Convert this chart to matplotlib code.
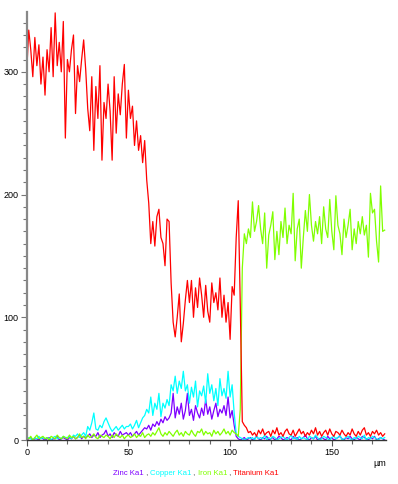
import matplotlib
matplotlib.use("Agg")
import matplotlib.pyplot as plt
import numpy as np

plt.rcParams['font.family'] = ['Liberation Sans', 'DejaVu Sans']

# line scan, one sample per micron
distance_um = np.arange(0, 177)

titanium = [
    300, 334, 318, 296, 328, 305, 322, 290, 312, 281,
    318, 300, 336, 296, 348, 305, 324, 300, 341, 246,
    310, 300, 318, 330, 266, 305, 292, 310, 326, 302,
    270, 252, 296, 236, 288, 262, 305, 228, 275, 262,
    290, 268, 228, 296, 250, 282, 265, 290, 306, 246,
    285, 262, 272, 240, 260, 236, 248, 226, 244, 212,
    193, 160, 178, 158, 182, 188, 165, 160, 142, 180,
    178, 128, 96, 84, 100, 119, 80, 95, 114, 130,
    112, 130, 100, 124, 108, 132, 118, 100, 126, 105,
    96, 128, 112, 120, 106, 132, 100, 118, 96, 112,
    82, 125, 118, 165, 195, 110, 15, 12, 10, 6,
    7, 4, 6, 3, 8, 5, 9, 4, 6, 7,
    3, 8, 5, 10, 4, 6, 3, 7, 9, 5,
    4, 8, 3, 6, 9, 5, 7, 3, 6, 4,
    8, 5, 10, 4, 7, 3, 6, 8, 4, 9,
    5, 3, 7, 6, 4, 8, 5, 3, 6, 4,
    9, 5, 3, 7, 4, 8, 10, 4, 6, 3,
    7, 5, 8, 4, 6, 3, 5,
]

iron = [
    2, 1, 3, 0, 2, 4, 1, 2, 3, 1,
    2, 0, 3, 2, 1, 4, 2, 1, 3, 2,
    1, 4, 2, 3, 1, 2, 5, 2, 3, 1,
    4, 2, 3, 5, 2, 1, 4, 3, 2, 4,
    3, 1, 4, 2, 5, 3, 2, 4, 1, 3,
    4, 2, 3, 5, 2, 4, 3, 6, 2, 4,
    5, 3, 6, 4, 7, 10, 5, 3, 6, 4,
    7, 5, 3, 6, 8, 4, 6, 3, 7, 5,
    4, 8, 5, 3, 7, 6, 9, 4, 7, 5,
    6, 3, 8, 5, 7, 4, 6, 9, 5, 7,
    4, 8, 6, 5, 3,
    25, 140, 168, 160, 172, 165, 194, 170, 178, 191,
    172, 160, 185, 140, 167, 175, 186, 147, 170, 151,
    178, 165, 189, 160, 175, 168, 201, 146, 172, 180,
    140, 165, 187, 170, 200, 175, 162, 178, 168, 182,
    160, 190, 172, 165, 196, 170, 155, 199, 175, 168,
    151, 180, 165, 175, 188, 155, 172, 160, 178, 168,
    182, 167, 175, 149, 201, 185, 188, 162, 145, 207,
    170, 171,
]

copper = [
    1, 2, 1, 0, 2, 1, 3, 1, 2, 1,
    2, 1, 0, 2, 3, 1, 2, 1, 3, 2,
    2, 3, 1, 4, 3, 5, 2, 4, 6, 3,
    11, 8, 14, 22, 9, 8, 12, 10, 15, 18,
    14, 10, 7, 9, 11, 8, 10, 12, 9, 11,
    11, 13, 9, 12, 16, 10, 14, 18, 20, 25,
    22, 35, 20, 30, 25, 38, 19, 30, 26, 33,
    28, 45, 40, 52, 38, 48, 42, 56, 40, 45,
    30, 43, 35, 48, 27, 40, 36, 44, 30, 54,
    38, 45, 32, 42, 28, 50, 36, 42, 34, 56,
    35, 45, 22, 5, 3, 2, 1, 0, 1, 2,
    1, 2, 0, 3, 1, 2, 1, 4, 0, 2,
    1, 3, 2, 0, 1, 2, 3, 1, 0, 2,
    4, 1, 2, 0, 3, 1, 2, 1, 0, 3,
    2, 1, 4, 2, 0, 1, 3, 2, 1, 0,
    2, 3, 1, 2, 4, 0, 1, 2, 3, 1,
    0, 2, 1, 3, 2, 1, 4, 0, 2, 1,
    3, 2, 1, 0, 2, 1, 2,
]

zinc = [
    0, 1, 2, 0, 1, 1, 0, 2, 1, 0,
    1, 2, 0, 1, 1, 3, 0, 1, 2, 1,
    0, 2, 1, 3, 1, 2, 4, 1, 3, 2,
    3, 5, 2, 4, 3, 6, 2, 4, 5, 8,
    3, 5, 2, 6, 4, 3, 7, 4, 5, 6,
    4, 6, 3, 5, 7, 4, 6, 8, 10, 9,
    12, 8, 13, 11, 15, 12, 17, 14, 19, 16,
    18, 22, 38, 18, 27, 21, 30, 17, 24, 38,
    20, 25, 16, 28, 22, 18, 26, 20, 33, 21,
    27, 17, 24, 30, 19, 25, 22, 28, 20, 35,
    18, 24, 12, 3, 1, 0, 1, 2, 0, 1,
    2, 0, 1, 3, 1, 0, 2, 1, 3, 0,
    1, 2, 0, 1, 3, 2, 0, 1, 2, 1,
    0, 3, 1, 2, 0, 1, 2, 4, 1, 0,
    2, 1, 3, 0, 1, 2, 1, 0, 3, 1,
    2, 0, 1, 2, 3, 1, 0, 2, 1, 3,
    1, 0, 2, 1, 0, 3, 2, 1, 0, 2,
    1, 3, 0, 1, 2, 1, 0,
]

series_names = ['Zinc Ka1', 'Copper Ka1', 'Iron Ka1', 'Titanium Ka1']
series_colors = ['#7f00ff', '#00ffff', '#80ff00', '#ff0000']
series_values = [zinc, copper, iron, titanium]

fig = plt.figure(figsize=(3.98, 4.84), dpi=100)
ax = fig.add_axes([0.0671, 0.0909, 0.902, 0.885])

for vals, col in zip(series_values, series_colors):
    ax.plot(distance_um, vals, color=col, lw=0.9)

ax.set_xlim(0, 176.5)
ax.set_ylim(0, 349)
ax.set_xticks([0, 50, 100, 150])
ax.set_xticks(np.arange(0, 177, 10), minor=True)
ax.set_yticks([0, 100, 200, 300])
ax.set_yticks(np.arange(0, 350, 10), minor=True)

ax.spines['top'].set_visible(False)
ax.spines['right'].set_visible(False)
ax.spines['left'].set_color('#888888')
ax.spines['left'].set_linewidth(1.6)
ax.spines['bottom'].set_color('#333333')
ax.spines['bottom'].set_linewidth(1.0)

ax.tick_params(axis='both', which='major', labelsize=6.5, length=4, width=0.8,
               color='#555555', pad=2)
ax.tick_params(axis='both', which='minor', length=3, width=0.8, color='#666666')
ax.tick_params(axis='y', which='both', color='#777777')

fig.text(0.955, 0.043, 'µm', fontsize=6.5, ha='center', va='center')

# coloured legend line under the axis
fig.canvas.draw()
renderer = fig.canvas.get_renderer()
pieces = []
for i, (name, col) in enumerate(zip(series_names, series_colors)):
    pieces.append((name, col))
    if i < len(series_names) - 1:
        pieces.append((' , ', '#444444'))
widths = []
texts = []
for s, col in pieces:
    t = fig.text(0, 0.0225, s, fontsize=5.6, color=col, va='center', ha='left')
    texts.append(t)
    widths.append(t.get_window_extent(renderer).width)
total = sum(widths)
x0 = 196 - total / 2
for t, w in zip(texts, widths):
    t.set_x(x0 / fig.bbox.width)
    x0 += w

fig.savefig('out.png', dpi=100)
